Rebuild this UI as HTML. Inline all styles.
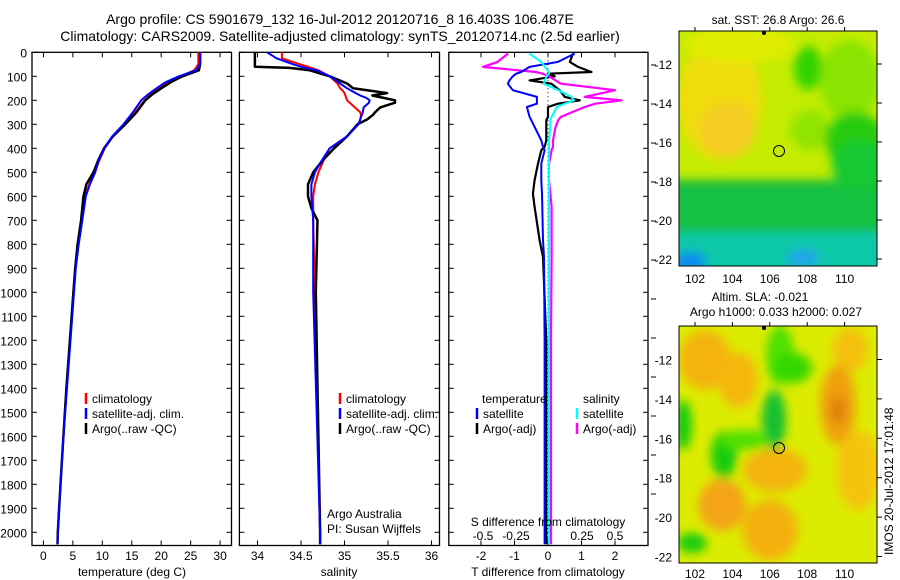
<!DOCTYPE html>
<html><head><meta charset="utf-8">
<style>
html,body{margin:0;padding:0;background:#fff;}
svg{display:block;font-family:"Liberation Sans",sans-serif;}
text{fill:#000;}
</style></head>
<body>
<svg id="chart" width="900" height="580" viewBox="0 0 900 580" xmlns="http://www.w3.org/2000/svg">
<defs>
<filter id="blur6" x="-50%" y="-50%" width="200%" height="200%"><feGaussianBlur stdDeviation="5"/></filter>
<clipPath id="clipMapTop"><rect x="679" y="31" width="198" height="235"/></clipPath>
<clipPath id="clipMapBot"><rect x="679" y="326" width="198" height="237"/></clipPath>
</defs>
<text x="340" y="24" font-size="14" text-anchor="middle">Argo profile: CS 5901679_132 16-Jul-2012 20120716_8 16.403S 106.487E</text>
<text x="340" y="41" font-size="14" text-anchor="middle">Climatology: CARS2009. Satellite-adjusted climatology: synTS_20120714.nc (2.5d earlier)</text>

<g id="panels"></g>

<g>
<text x="778" y="24" font-size="12" text-anchor="middle">sat. SST: 26.8 Argo: 26.6</text>
<g clip-path="url(#clipMapTop)">
<rect x="679" y="31" width="198" height="235" fill="#c4ec00"/>
<g filter="url(#blur6)">
<ellipse cx="720" cy="100" rx="42" ry="60" fill="#f0dc10"/>
<ellipse cx="728" cy="130" rx="28" ry="28" fill="#f4cc20"/>
<ellipse cx="740" cy="45" rx="55" ry="18" fill="#e0ec00"/>
<ellipse cx="808" cy="68" rx="14" ry="22" fill="#30d400"/>
<ellipse cx="850" cy="80" rx="30" ry="40" fill="#88e400"/>
<ellipse cx="810" cy="130" rx="20" ry="20" fill="#90e400"/>
<ellipse cx="855" cy="140" rx="30" ry="28" fill="#28cc10"/>
<rect x="670" y="180" width="220" height="55" fill="#18c040"/>
<ellipse cx="860" cy="165" rx="28" ry="25" fill="#18c830"/>
<rect x="670" y="232" width="220" height="45" fill="#10c8a8"/>
<ellipse cx="690" cy="262" rx="16" ry="10" fill="#1088f0"/>
<ellipse cx="803" cy="258" rx="16" ry="8" fill="#20a0f0"/>
</g>
</g>
<rect x="679" y="31" width="198" height="235" fill="none" stroke="#000" stroke-width="1"/>
<circle cx="779" cy="151" r="5.5" fill="none" stroke="#000" stroke-width="1"/>
<circle cx="764" cy="33" r="2" fill="#000"/>
<g id="mapTopAxes"></g>
</g>

<g>
<text x="760" y="301" font-size="12" text-anchor="middle">Altim. SLA: -0.021</text>
<text x="776" y="316" font-size="12" text-anchor="middle">Argo h1000: 0.033 h2000: 0.027</text>
<g clip-path="url(#clipMapBot)">
<rect x="679" y="326" width="198" height="237" fill="#dcec00"/>
<g filter="url(#blur6)">
<ellipse cx="705" cy="360" rx="26" ry="30" fill="#f4b410"/>
<ellipse cx="738" cy="380" rx="20" ry="28" fill="#f4b810"/>
<ellipse cx="850" cy="350" rx="18" ry="22" fill="#f4c010"/>
<ellipse cx="838" cy="405" rx="18" ry="40" fill="#f0a010"/>
<ellipse cx="838" cy="410" rx="8" ry="14" fill="#e08008"/>
<ellipse cx="858" cy="470" rx="22" ry="40" fill="#f4c410"/>
<ellipse cx="775" cy="470" rx="32" ry="22" fill="#f4b410"/>
<ellipse cx="722" cy="505" rx="24" ry="26" fill="#f4a418"/>
<ellipse cx="770" cy="530" rx="28" ry="30" fill="#f4b010"/>
<ellipse cx="780" cy="355" rx="14" ry="30" fill="#50e000"/>
<ellipse cx="774" cy="420" rx="12" ry="30" fill="#18c030"/>
<ellipse cx="792" cy="368" rx="20" ry="15" fill="#30d800"/>
<ellipse cx="724" cy="455" rx="13" ry="24" fill="#18cc10"/>
<ellipse cx="745" cy="440" rx="25" ry="10" fill="#50e000"/>
<ellipse cx="683" cy="425" rx="9" ry="25" fill="#18cc10"/>
<ellipse cx="692" cy="543" rx="15" ry="10" fill="#18cc10"/>
</g>
</g>
<rect x="679" y="326" width="198" height="237" fill="none" stroke="#000" stroke-width="1"/>
<circle cx="779" cy="448" r="5.5" fill="none" stroke="#000" stroke-width="1"/>
<circle cx="764" cy="328" r="2" fill="#000"/>
<g id="mapBotAxes"></g>
</g>
<text x="0" y="0" font-size="12" transform="translate(893,555) rotate(-90)">IMOS 20-Jul-2012 17:01:48</text>
</svg>
<script>
// ===== data =====
const depthTicks = [0,100,200,300,400,500,600,700,800,900,1000,1100,1200,1300,1400,1500,1600,1700,1800,1900,2000];
const tempTicks = [0,5,10,15,20,25,30];
const salTicks = [34,34.5,35,35.5,36];
const salTickLabels = ["34","34.5","35","35.5","36"];
const tdiffTicks = [-2,-1,0,1,2];
const sdiffTicks = [-0.5,-0.25,0,0.25,0.5];
const sdiffTickLabels = ["-0.5","-0.25","0","0.25","0.5"];

const tempDepths = [0,50,75,100,125,150,175,200,250,300,350,400,450,500,550,600,700,800,900,1000,1200,1400,1600,1800,2000,2050];
const tempClim   = [26.3,26.3,25.6,23.3,21.2,19.6,18.2,17.2,15.6,13.8,11.8,10.4,9.5,8.7,7.8,7.1,6.5,5.9,5.4,5.1,4.5,3.9,3.4,2.9,2.45,2.4];
const tempSat    = [26.6,26.6,25.9,23.0,20.7,19.2,17.8,16.6,15.2,13.6,11.7,10.3,9.4,8.8,7.9,7.2,6.6,6.0,5.5,5.2,4.6,4.0,3.4,2.9,2.45,2.4];
const tempArgo   = [26.6,26.6,26.4,23.6,21.6,20.0,18.5,17.3,15.8,13.9,11.8,10.3,9.3,8.5,7.3,6.8,6.4,5.8,5.4,5.1,4.5,3.9,3.4,2.9,2.45,2.4];

const salDepths = [0,25,50,60,65,75,100,130,150,160,170,180,190,200,210,230,250,260,280,300,350,400,450,500,550,600,650,700,1000,2000,2050];
const salClim   = [34.28,34.28,34.49,34.58,34.62,34.7,34.83,34.92,34.95,34.98,35.0,35.01,35.02,35.03,35.06,35.12,35.18,35.19,35.18,35.16,35.03,34.83,34.76,34.7,34.66,34.64,34.64,34.64,34.66,34.72,34.72];
const salSat    = [34.11,34.22,34.41,34.5,34.55,34.68,34.83,34.95,35.03,35.08,35.13,35.18,35.25,35.29,35.28,35.22,35.21,35.2,35.18,35.16,35.03,34.83,34.74,34.66,34.62,34.62,34.63,34.64,34.64,34.72,34.72];
const salArgo   = [33.97,33.97,33.97,33.97,34.37,34.6,34.83,35.03,35.1,35.3,35.49,35.32,35.45,35.58,35.58,35.41,35.35,35.33,35.26,35.15,35.03,34.88,34.75,34.64,34.58,34.58,34.62,34.69,34.67,34.72,34.72];

const diffDepths = [5,40,61,82,89,100,117,131,158,186,200,214,228,269,283,311,367,394,408,464,533,589,644,783,853,1200,2050];
const tdiffSat  = [0.8,0.3,-0.55,-0.8,-0.95,-1.05,-1.15,-1.2,-1.05,-0.33,-0.33,-0.33,-0.63,-0.55,-0.5,-0.4,-0.2,-0.15,-0.1,-0.2,-0.2,-0.18,-0.17,-0.15,-0.12,-0.1,-0.1];
const tdiffArgo = [0.75,0.65,0.9,1.3,0.0,0.2,-0.55,0.1,0.35,0.5,0.95,0.3,0.0,0.0,-0.05,-0.05,-0.05,-0.1,-0.2,-0.3,-0.4,-0.45,-0.4,-0.25,-0.15,-0.05,-0.05];
const sdiffSat  = [-0.15,-0.06,-0.03,0.0,0.0,-0.02,-0.03,-0.04,0.07,0.17,0.19,0.12,0.06,0.02,0.01,0.01,0.0,0.0,0.0,0.0,0.0,0.0,0.0,0.0,0.0,0.0,0.0];
const sdiffArgo = [-0.31,-0.39,-0.5,-0.1,-0.05,0.0,0.05,0.09,0.5,0.27,0.55,0.35,0.27,0.09,0.07,0.05,0.03,0.03,0.02,0.0,0.0,0.01,0.02,0.02,0.02,0.015,0.015];

const latTicks = [-12,-14,-16,-18,-20,-22];
const lonTicks = [102,104,106,108,110];

// ===== layout =====
const NS = "http://www.w3.org/2000/svg";
const root = document.getElementById('panels');
const Y0 = 52.3, Y1 = 545.5, DPX = 0.24;
const yD = d => Y0 + d * DPX;
const xT = t => 43.4 + t * 5.89;
const xS = s => 257.5 + (s - 34) * 87;
const xTD = t => 548 + t * 33.5;
const xSD = s => 549 + s * 132;

function mk(tag, attrs, parent) {
  const e = document.createElementNS(NS, tag);
  for (const k in attrs) e.setAttribute(k, attrs[k]);
  (parent || root).appendChild(e);
  return e;
}
function txt(x, y, s, size, anchor, parent) {
  const t = mk('text', {x: x, y: y, 'font-size': size, 'text-anchor': anchor || 'start'}, parent);
  t.textContent = s;
  return t;
}
function frame(x0, x1, name) {
  const r = mk('rect', {x: x0, y: Y0, width: x1 - x0, height: Y1 - Y0, fill: 'none', stroke: '#000', 'stroke-width': 1.3});
  
  
  depthTicks.forEach(d => {
    mk('line', {x1: x0, x2: x0 + 5, y1: yD(d), y2: yD(d), stroke: '#000'});
    mk('line', {x1: x1 - 5, x2: x1, y1: yD(d), y2: yD(d), stroke: '#000'});
  });
}
function xticks(vals, labels, fx, x0, x1, ylab, name) {
  vals.forEach((v, i) => {
    const x = fx(v);
    mk('line', {x1: x, x2: x, y1: Y1, y2: Y1 - 5, stroke: '#000'});
    mk('line', {x1: x, x2: x, y1: Y0, y2: Y0 + 5, stroke: '#000'});
    const t = txt(x, ylab, labels[i], 12, 'middle');
    
    
  });
}
function series(depths, vals, fx, color, name, w) {
  const pts = depths.map((d, i) => fx(vals[i]).toFixed(1) + ',' + yD(d).toFixed(1)).join(' ');
  const p = mk('polyline', {points: pts, fill: 'none', stroke: color, 'stroke-width': w || 2, 'stroke-linejoin': 'round'});
  
  
}
function legend(x, y, color, label, name) {
  mk('line', {x1: x, x2: x, y1: y - 10, y2: y + 1, stroke: color, 'stroke-width': 2.5});
  const t = txt(x + 6, y, label, 12);
  
  
}

depthTicks.forEach(d => {
  const t = txt(27, yD(d) + 5, String(d), 12, 'end');
  
  
});

// panel 1 temperature
frame(32, 231.5, 'temperature-panel');
xticks(tempTicks, tempTicks.map(String), xT, 32, 231.5, 560, 'temperature-tick-label');
series(tempDepths, tempClim, xT, '#ff0000', 'temperature-climatology-line');
series(tempDepths, tempArgo, xT, '#000000', 'temperature-argo-line', 2.5);
series(tempDepths, tempSat, xT, '#0000ff', 'temperature-satellite-line');
txt(132, 576, 'temperature (deg C)', 12, 'middle');
legend(86, 403, '#ff0000', 'climatology', 'legend-climatology');
legend(86, 418, '#0000ff', 'satellite-adj. clim.', 'legend-satellite-adj');
legend(86, 433, '#000000', 'Argo(..raw -QC)', 'legend-argo-raw');

// panel 2 salinity
frame(239.4, 439.5, 'salinity-panel');
xticks(salTicks, salTickLabels, xS, 239.4, 439.5, 560, 'salinity-tick-label');
series(salDepths, salClim, xS, '#ff0000', 'salinity-climatology-line');
series(salDepths, salArgo, xS, '#000000', 'salinity-argo-line', 2.5);
series(salDepths, salSat, xS, '#0000ff', 'salinity-satellite-line');
txt(339, 576, 'salinity', 12, 'middle');
legend(340, 403, '#ff0000', 'climatology', 'legend-climatology-2');
legend(340, 418, '#0000ff', 'satellite-adj. clim.', 'legend-satellite-adj-2');
legend(340, 433, '#000000', 'Argo(..raw -QC)', 'legend-argo-raw-2');
txt(327, 518, 'Argo Australia', 12);
txt(327, 533, 'PI: Susan Wijffels', 12);

// panel 3 differences
frame(448.8, 648, 'difference-panel');
xticks(tdiffTicks, tdiffTicks.map(String), xTD, 448.8, 648, 560, 'tdiff-tick-label');
sdiffTicks.forEach((v, i) => {
  const t = txt(xSD(v), 540, sdiffTickLabels[i], 12, 'middle');
  
  
});
mk('line', {x1: xTD(0), x2: xTD(0), y1: Y0, y2: Y1, stroke: '#000', 'stroke-dasharray': '1,3'});
series(diffDepths, tdiffArgo, xTD, '#000000', 'tdiff-argo-line', 2.2);
series(diffDepths, sdiffArgo, xSD, '#ff00ff', 'sdiff-argo-line', 2.2);
series(diffDepths, tdiffSat, xTD, '#0000ff', 'tdiff-satellite-line');
series(diffDepths, sdiffSat, xSD, '#00ffff', 'sdiff-satellite-line');
txt(548, 526, 'S difference from climatology', 12, 'middle');
txt(548, 576, 'T difference from climatology', 12, 'middle');
txt(482, 403, 'temperature', 12);
txt(583, 403, 'salinity', 12);
legend(477, 418, '#0000ff', 'satellite', 'legend-t-satellite');
legend(477, 433, '#000000', 'Argo(-adj)', 'legend-t-argo');
legend(577, 418, '#00ffff', 'satellite', 'legend-s-satellite');
legend(577, 433, '#ff00ff', 'Argo(-adj)', 'legend-s-argo');
for (let i = 0; i < 12; i++) {
  const y = 65 + i * 39;
  if (y < Y1) mk('line', {x1: 651, x2: 656, y1: y, y2: y, stroke: '#000'});
}

// map axes
function mapAxes(gid, top, lat12y, latPx, xlabY) {
  const g = document.getElementById(gid);
  const xL = lon => 695 + (lon - 102) * 18.7;
  const yL = lat => lat12y + (-12 - lat) * latPx;
  latTicks.forEach(l => {
    const y = yL(l);
    mk('line', {x1: 877, x2: 882, y1: y, y2: y, stroke: '#000'}, g);
    const t = txt(672, y + 5, String(l), 12, 'end', g);
    
    
  });
  lonTicks.forEach(l => {
    const x = xL(l);
    mk('line', {x1: x, x2: x, y1: top, y2: top - 4, stroke: '#000'}, g);
    const t = txt(x, xlabY, String(l), 12, 'middle', g);
    
    
  });
}
mapAxes('mapTopAxes', 31, 64, 19.5, 283);
mapAxes('mapBotAxes', 326, 359.5, 19.7, 578);
</script>
</body></html>
